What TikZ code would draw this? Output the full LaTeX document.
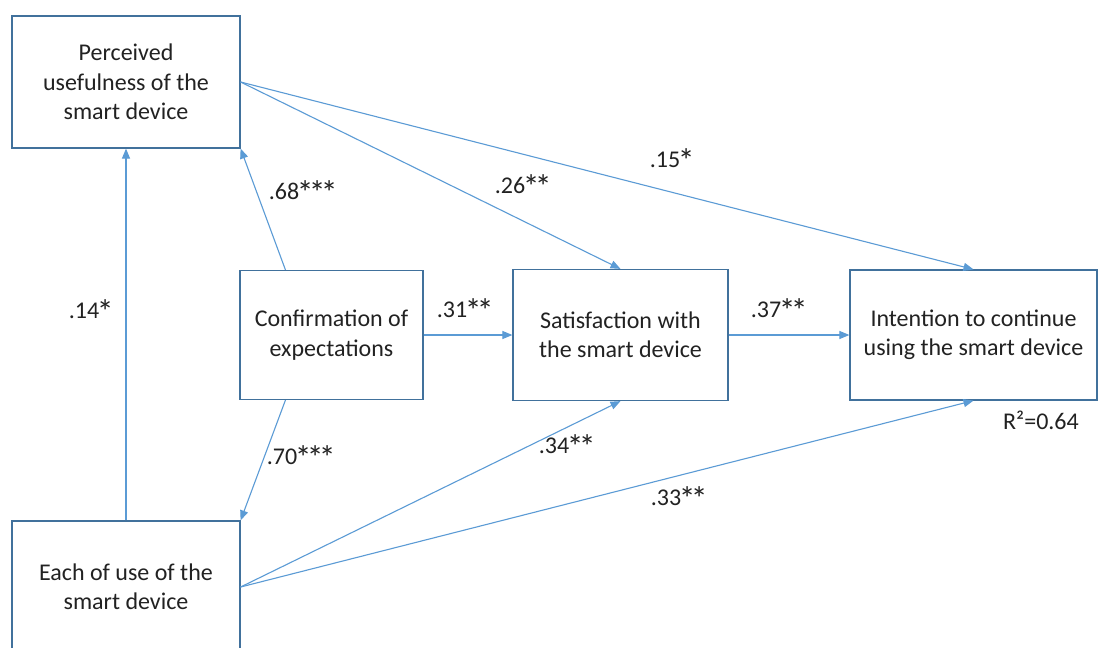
\documentclass[tikz,border=0pt]{standalone}
\usepackage{fontspec}
\usepackage{graphicx}
\setmainfont{Carlito}
\usetikzlibrary{arrows.meta,calc}
\definecolor{boxblue}{HTML}{41719C}
\definecolor{arrowblue}{HTML}{5B9BD5}
\definecolor{txt}{HTML}{222222}
\newcommand\myst{\makebox[0.5em]{\raisebox{-5pt}{\scalebox{1.4}{*}}}}
\begin{document}
\begin{tikzpicture}[x=1pt,y=-1pt,
  box/.style={draw=boxblue, line width=1.2pt, fill=white, align=center, text=txt,
    font=\fontsize{24}{29.3}\selectfont, inner sep=0pt},
  conn/.style={draw=arrowblue, line width=1.1pt, -{Triangle[length=10pt,width=8pt]}},
  lbl/.style={text=txt, font=\fontsize{24}{29.3}\selectfont, inner sep=0pt}]
\useasboundingbox (0,0) rectangle (1098,648);
\clip (0,0) rectangle (1098,648);
\fill[white] (0,0) rectangle (1098,648);
% boxes
\node[box, minimum width=228pt, minimum height=132pt] (pu) at (126,82) {Perceived\\usefulness of the\\smart device};
\node[box, minimum width=228pt, minimum height=132pt] (eou) at (126,587) {Each of use of the\\smart device};
\node[box, minimum width=183pt, minimum height=129pt] (conf) at (331.5,335) {Confirmation of\\expectations};
\node[box, minimum width=215pt, minimum height=131pt] (sat) at (620.5,335) {Satisfaction with\\the smart device};
\node[box, minimum width=247pt, minimum height=130pt] (int) at (973.5,335) {Intention to continue\\using the smart device};
% connectors
\draw[conn] (eou.north) -- (pu.south);
\draw[conn] ($(conf.north west)!0.25!(conf.north east)$) -- (pu.south east);
\draw[conn] ($(conf.south west)!0.25!(conf.south east)$) -- (eou.north east);
\draw[conn] (pu.east) -- (sat.north);
\draw[conn] (pu.east) -- (int.north);
\draw[conn] (conf.east) -- (sat.west);
\draw[conn] (sat.east) -- (int.west);
\draw[conn] (eou.east) -- (sat.south);
\draw[conn] (eou.east) -- (int.south);
% labels
\node[lbl] (l68) at (302,193) {.68\myst\myst\myst};
\node[lbl] (l26) at (522,187) {.26\myst\myst};
\node[lbl] (l15) at (671,161) {.15\myst};
\node[lbl] (l14) at (90,312) {.14\myst};
\node[lbl] (l31) at (464,311) {.31\myst\myst};
\node[lbl] (l37) at (778,311) {.37\myst\myst};
\node[lbl] (l70) at (300,458) {.70\myst\myst\myst};
\node[lbl] (l34) at (566,447) {.34\myst\myst};
\node[lbl] (l33) at (678,499) {.33\myst\myst};
\node[lbl] (r2) at (1041,420) {R²=0.64};
\end{tikzpicture}
\end{document}
